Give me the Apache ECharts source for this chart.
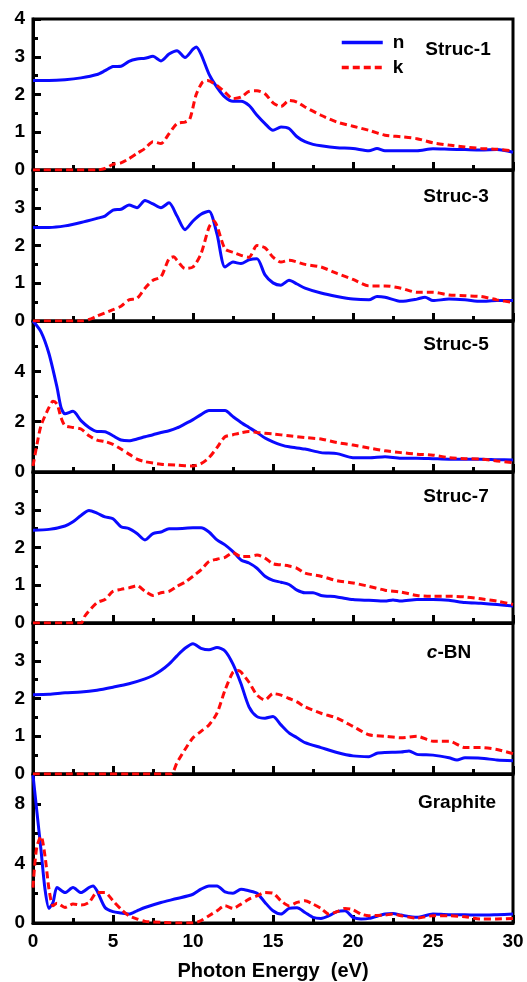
<!DOCTYPE html>
<html>
<head>
<meta charset="utf-8">
<script src="https://cdn.jsdelivr.net/npm/echarts@6/dist/echarts.min.js"></script>
<style>
html,body{margin:0;padding:0;background:#fff;}
#chart{width:527px;height:982px;}
</style>
</head>
<body>
<div id="chart"></div>
<script>
// ---- data: [photon energy (eV), value] ----
const panelNames = ['Struc-1', 'Struc-3', 'Struc-5', 'Struc-7', 'c-BN', 'Graphite'];
const yMax = [4, 4, 6, 4, 4, 10];
const yInterval = [1, 1, 2, 1, 1, 4];
const xTicks = [0, 5, 10, 15, 20, 25, 30];

const struc1_n = [[0,2.37],[1,2.37],[2,2.39],[3,2.44],[4,2.53],[4.5,2.63],[5,2.74],[5.5,2.75],[6,2.88],[6.5,2.94],[7,2.96],[7.5,3.01],[8,2.89],[8.5,3.07],[9,3.16],[9.5,2.98],[10,3.2],[10.2,3.26],[10.5,3.07],[11,2.54],[11.5,2.19],[12,1.93],[12.5,1.82],[13,1.82],[13.5,1.71],[14,1.45],[14.5,1.23],[15,1.05],[15.5,1.14],[16,1.1],[16.5,0.88],[17,0.75],[17.5,0.68],[18,0.64],[19,0.59],[20,0.57],[21,0.51],[21.5,0.57],[22,0.51],[23,0.51],[24,0.51],[25,0.56],[26,0.55],[27,0.54],[28,0.53],[29,0.54],[30,0.47]];
const struc1_k = [[0,0],[4,0],[4.5,0.04],[5,0.15],[5.5,0.19],[6,0.3],[6.5,0.44],[7,0.57],[7.5,0.75],[8,0.7],[8.5,0.96],[9,1.23],[9.5,1.27],[9.8,1.35],[10.2,2.0],[10.6,2.33],[10.9,2.37],[11.5,2.24],[12,2.06],[12.5,1.89],[13,1.93],[13.5,2.08],[14,2.1],[14.5,2.02],[15,1.78],[15.5,1.68],[16,1.84],[16.5,1.8],[17,1.67],[18,1.45],[19,1.27],[20,1.16],[21,1.05],[22,0.92],[23,0.88],[24,0.83],[25,0.72],[26,0.66],[27,0.61],[28,0.57],[29,0.55],[30,0.51]];

const struc3_n = [[0,2.48],[1,2.48],[2,2.52],[3,2.61],[4,2.72],[4.5,2.78],[5,2.94],[5.5,2.96],[6,3.07],[6.5,3.0],[7,3.19],[7.5,3.1],[8,3.0],[8.5,3.13],[9,2.78],[9.5,2.42],[10,2.65],[10.5,2.83],[11,2.91],[11.5,2.3],[12,1.43],[12.5,1.56],[13,1.52],[13.5,1.62],[14,1.65],[14.5,1.22],[15,1.01],[15.5,0.95],[16,1.08],[16.5,0.98],[17,0.87],[18,0.74],[19,0.65],[20,0.58],[21,0.56],[21.5,0.65],[22,0.63],[23,0.52],[24,0.58],[24.5,0.63],[25,0.54],[26,0.58],[27,0.56],[28,0.52],[29,0.54],[30,0.54]];
const struc3_k = [[0,0],[3,0],[3.5,0.04],[4,0.13],[5,0.3],[5.5,0.39],[6,0.56],[6.5,0.6],[7,0.87],[7.5,1.08],[8,1.17],[8.5,1.65],[8.8,1.7],[9,1.61],[9.5,1.39],[10,1.43],[10.5,1.78],[11,2.48],[11.3,2.65],[11.5,2.52],[12,1.91],[12.5,1.82],[13,1.74],[13.5,1.69],[14,2.0],[14.5,1.94],[15,1.69],[15.5,1.56],[16,1.61],[17,1.5],[18,1.43],[19,1.26],[20,1.1],[21,0.93],[22,0.93],[23,0.87],[24,0.76],[25,0.76],[26,0.69],[27,0.67],[28,0.65],[29,0.56],[30,0.49]];

const struc5_n = [[0,6.0],[0.5,5.57],[1,4.7],[1.5,3.37],[1.75,2.57],[2,2.31],[2.5,2.41],[3,2.04],[3.5,1.77],[4,1.61],[4.5,1.6],[5,1.44],[5.5,1.27],[6,1.24],[6.5,1.31],[7,1.4],[7.5,1.48],[8,1.57],[8.5,1.64],[9,1.75],[9.5,1.91],[10,2.08],[10.5,2.28],[11,2.44],[11.5,2.44],[12,2.44],[12.5,2.2],[13,1.97],[13.5,1.77],[14,1.57],[14.5,1.35],[15,1.2],[15.5,1.08],[16,1.0],[17,0.91],[18,0.77],[19,0.73],[20,0.57],[21,0.57],[22,0.61],[23,0.55],[24,0.55],[25,0.53],[26,0.51],[27,0.51],[28,0.51],[29,0.49],[30,0.48]];
const struc5_k = [[0,0.24],[0.25,1.1],[0.5,1.84],[1,2.57],[1.25,2.81],[1.5,2.7],[1.75,2.17],[2,1.84],[2.5,1.77],[3,1.71],[3.5,1.44],[4,1.27],[4.5,1.21],[5,1.1],[5.5,0.91],[6,0.71],[6.5,0.51],[7,0.41],[8,0.31],[9,0.27],[10,0.24],[10.5,0.33],[11,0.57],[11.5,0.97],[12,1.4],[12.5,1.48],[13,1.56],[13.5,1.61],[14,1.57],[15,1.51],[16,1.44],[17,1.37],[18,1.31],[19,1.17],[20,1.07],[21,0.95],[22,0.84],[23,0.77],[24,0.71],[25,0.67],[26,0.57],[27,0.53],[28,0.51],[29,0.44],[30,0.37]];

const struc7_n = [[0,2.46],[1,2.48],[2,2.57],[2.5,2.68],[3,2.85],[3.5,2.98],[4,2.91],[4.5,2.81],[5,2.76],[5.5,2.55],[6,2.5],[6.5,2.37],[7,2.2],[7.5,2.37],[8,2.41],[8.5,2.5],[9,2.5],[10,2.52],[10.5,2.52],[11,2.41],[11.5,2.2],[12,2.07],[12.5,1.89],[13,1.67],[13.5,1.59],[14,1.45],[14.5,1.24],[15,1.13],[15.5,1.08],[16,1.02],[16.5,0.87],[17,0.8],[17.5,0.8],[18,0.73],[19,0.69],[20,0.62],[21,0.6],[22,0.58],[22.5,0.61],[23,0.58],[24,0.62],[25,0.62],[26,0.6],[27,0.54],[28,0.52],[29,0.49],[30,0.45]];
const struc7_k = [[0,0],[3,0],[3.25,0.19],[4,0.54],[4.5,0.62],[5,0.84],[5.5,0.89],[6,0.93],[6.5,0.99],[7,0.84],[7.5,0.73],[8,0.8],[8.5,0.84],[9,0.97],[9.5,1.08],[10,1.24],[10.5,1.41],[11,1.63],[11.5,1.69],[12,1.74],[12.5,1.86],[13,1.76],[13.5,1.76],[14,1.8],[14.5,1.72],[15,1.57],[15.5,1.54],[16,1.51],[16.5,1.45],[17,1.32],[18,1.24],[19,1.12],[20,1.06],[21,0.97],[22,0.87],[23,0.82],[24,0.73],[25,0.71],[26,0.71],[27,0.69],[28,0.64],[29,0.58],[30,0.49]];

const cbn_n = [[0,2.1],[1,2.11],[2,2.15],[3,2.17],[4,2.22],[5,2.3],[6,2.39],[7,2.52],[7.5,2.61],[8,2.74],[8.5,2.91],[9,3.13],[9.5,3.33],[10,3.45],[10.5,3.33],[11,3.29],[11.5,3.35],[12,3.26],[12.5,2.91],[13,2.39],[13.5,1.78],[14,1.52],[14.5,1.48],[15,1.52],[15.5,1.3],[16,1.09],[16.5,0.96],[17,0.83],[18,0.7],[19,0.57],[20,0.48],[21,0.46],[21.5,0.55],[22,0.57],[23,0.58],[23.5,0.61],[24,0.52],[25,0.5],[26,0.43],[26.5,0.37],[27,0.43],[28,0.42],[29,0.37],[30,0.35]];
const cbn_k = [[0,0],[8.6,0],[9,0.3],[9.5,0.65],[10,0.96],[10.5,1.13],[11,1.3],[11.5,1.61],[12,2.22],[12.5,2.7],[12.8,2.74],[13,2.7],[13.5,2.43],[14,2.09],[14.5,1.96],[15,2.13],[15.5,2.09],[16,2.0],[16.5,1.91],[17,1.78],[18,1.61],[19,1.48],[20,1.26],[21,1.04],[22,1.0],[23,0.96],[24,1.0],[25,0.87],[26,0.87],[27,0.7],[28,0.7],[29,0.65],[30,0.54]];

const graphite_n = [[0,9.93],[0.25,7.4],[0.5,4.9],[0.75,2.27],[1,0.98],[1.25,1.38],[1.5,2.38],[2,2.04],[2.5,2.38],[3,2.04],[3.5,2.38],[3.75,2.49],[4,2.16],[4.5,1.04],[5,0.76],[5.5,0.67],[6,0.6],[6.5,0.82],[7,1.04],[8,1.38],[9,1.64],[10,1.93],[10.5,2.27],[11,2.49],[11.5,2.49],[12,2.09],[12.5,2.0],[13,2.27],[13.5,2.16],[14,2.0],[14.5,1.38],[15,0.82],[15.5,0.6],[16,0.98],[16.5,1.02],[17,0.71],[17.5,0.38],[18,0.31],[18.5,0.49],[19,0.76],[19.5,0.82],[20,0.38],[20.5,0.27],[21,0.31],[22,0.6],[22.5,0.64],[23,0.53],[24,0.38],[25,0.6],[26,0.56],[27,0.56],[28,0.53],[29,0.56],[30,0.6]];
const graphite_k = [[0,2.38],[0.1,3.8],[0.25,5.16],[0.5,5.82],[0.75,4.49],[1,2.27],[1.25,1.16],[1.5,1.33],[2,1.04],[2.5,1.27],[3,1.2],[3.5,1.38],[4,2.04],[4.5,2.04],[5,1.49],[5.5,0.93],[6,0.49],[6.5,0.27],[7,0.11],[8,0.04],[9,0],[10,0],[10.5,0.16],[11,0.49],[11.5,0.82],[12,1.16],[12.5,0.98],[13,1.27],[13.5,1.6],[14,1.82],[14.5,2.04],[15,2.0],[15.5,1.49],[16,1.16],[16.5,1.38],[17,1.49],[17.5,1.27],[18,0.98],[18.5,0.6],[19,0.76],[19.5,0.98],[20,0.89],[20.5,0.6],[21,0.49],[22,0.53],[22.5,0.6],[23,0.49],[24,0.33],[25,0.49],[26,0.49],[27,0.42],[28,0.27],[29,0.27],[30,0.31]];

const nSeries = [struc1_n, struc3_n, struc5_n, struc7_n, cbn_n, graphite_n];
const kSeries = [struc1_k, struc3_k, struc5_k, struc7_k, cbn_k, graphite_k];

// ---- layout ----
const FONT = '"Liberation Sans", Arial, Helvetica, sans-serif';
const gridTop = 19, gridH = 151, gridLeft = 33, gridRight = 14;
const labelY = [50, 197, 345, 497, 653, 803];
const labelX = [458, 456, 456, 456, 449, 457];

const grids = [], xAxes = [], yAxes = [], series = [], graphics = [];
for (let i = 0; i < 6; i++) {
  grids.push({left: gridLeft, right: gridRight, top: gridTop + gridH * i, height: gridH,
    show: true, borderColor: '#000', borderWidth: 3, backgroundColor: 'transparent'});
  xAxes.push({type: 'value', gridIndex: i, min: xTicks[0], max: xTicks[xTicks.length - 1], interval: xTicks[1] - xTicks[0],
    axisLine: {show: true, onZero: false, lineStyle: {color: '#000', width: 3}},
    axisTick: {show: true, inside: true, length: 8, lineStyle: {color: '#000', width: 3}},
    minorTick: {show: true, splitNumber: 2, length: 5, lineStyle: {color: '#000', width: 3}},
    splitLine: {show: false},
    axisLabel: {show: i === 5, color: '#000', fontFamily: FONT, fontWeight: 'bold', fontSize: 19, margin: 9},
    name: i === 5 ? 'Photon Energy  (eV)' : '', nameLocation: 'middle', nameGap: 38,
    nameTextStyle: {color: '#000', fontFamily: FONT, fontWeight: 'bold', fontSize: 20}
  });
  yAxes.push({type: 'value', gridIndex: i, min: 0, max: yMax[i], interval: yInterval[i],
    axisLine: {show: true, lineStyle: {color: '#000', width: 3}},
    axisTick: {show: true, inside: true, length: 8, lineStyle: {color: '#000', width: 3}},
    minorTick: {show: true, splitNumber: 2, length: 5, lineStyle: {color: '#000', width: 3}},
    splitLine: {show: false},
    axisLabel: {color: '#000', fontFamily: FONT, fontWeight: 'bold', fontSize: 19, margin: 8,
      showMaxLabel: i === 0, showMinLabel: true}
  });
  series.push({name: 'n', type: 'line', xAxisIndex: i, yAxisIndex: i, data: nSeries[i],
    showSymbol: false, symbol: 'none', smooth: 0.25, lineStyle: {color: '#0a0aff', width: 3}, itemStyle: {color: '#0a0aff'}, z: 2});
  series.push({name: 'k', type: 'line', xAxisIndex: i, yAxisIndex: i, data: kSeries[i],
    showSymbol: false, symbol: 'none', smooth: 0.25, lineStyle: {color: '#ff0a0a', width: 3, type: [7, 4]}, itemStyle: {color: '#ff0a0a'}, z: 3});
  const isCBN = panelNames[i] === 'c-BN';
  graphics.push({type: 'text', x: labelX[i], y: labelY[i], z: 10,
    style: {text: isCBN ? '{it|c}-BN' : panelNames[i], fill: '#000', font: 'bold 19px ' + FONT,
      textAlign: 'center', textVerticalAlign: 'middle',
      rich: isCBN ? {it: {fontStyle: 'italic', fontWeight: 'bold', fontSize: 19, fontFamily: FONT, fill: '#000'}} : undefined}});
}

const chart = echarts.init(document.getElementById('chart'), null, {renderer: 'canvas'});
chart.setOption({
  animation: false,
  backgroundColor: '#fff',
  grid: grids, xAxis: xAxes, yAxis: yAxes, series: series,
  legend: {data: ['n', 'k'], orient: 'vertical', left: 335, top: 28, itemWidth: 41, itemHeight: 14, itemGap: 6,
    itemStyle: {opacity: 0, borderWidth: 0},
    lineStyle: {width: 3.5},
    textStyle: {color: '#000', fontFamily: FONT, fontWeight: 'bold', fontSize: 19, padding: [0, 0, 0, 5]},
    selectedMode: false},
  graphic: graphics
});
</script>
</body>
</html>
